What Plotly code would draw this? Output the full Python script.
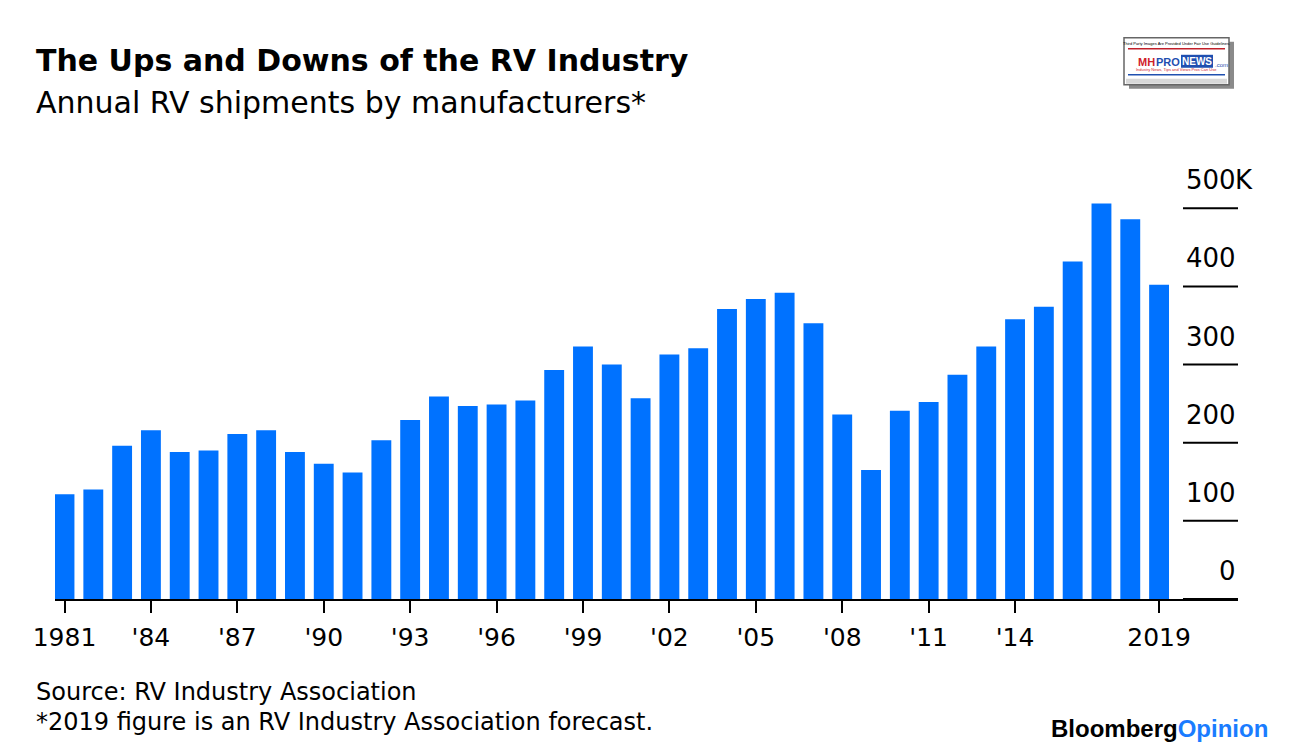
import plotly.graph_objects as go

# annual RV shipments (thousands)
years = list(range(1981, 2020))
shipments = [134, 140, 196, 216, 188, 190, 211, 216, 188, 173,
             162, 203, 229, 259, 247, 249, 254, 293, 323, 300,
             257, 313, 321, 371, 384, 392, 353, 236, 165, 241,
             252, 287, 323, 358, 374, 432, 506, 486, 402]

x_tickvals = [1981, 1984, 1987, 1990, 1993, 1996, 1999, 2002, 2005, 2008, 2011, 2014, 2019]
x_ticktext = ["1981", "'84", "'87", "'90", "'93", "'96", "'99", "'02", "'05", "'08", "'11", "'14", "2019"]
y_tickvals = [0, 100, 200, 300, 400, 500]
y_ticktext = ["0", "100", "200", "300", "400", "500"]

OFF = 8                      # page offset of the plot div
W, H = 1296 - OFF, 754 - OFF
PL, PR, PT, PB = 55, 1238, 176.5, 599.5   # plot area in page pixels
FONT = "DejaVu Sans"
BLUE = "#0072ff"


def px(x):  # page pixel -> paper x
    return (x - PL) / (PR - PL)


def py(y):  # page pixel -> paper y
    return (PB - y) / (PB - PT)


def note(x, y, text, size, color="black", family=FONT, xanchor="left", **kw):
    fig.add_annotation(xref="paper", yref="paper", x=px(x), y=py(y), text=text, showarrow=False,
                       xanchor=xanchor, yanchor="middle",
                       font=dict(family=family, size=size, color=color), **kw)


fig = go.Figure()
fig.add_trace(go.Bar(x=years, y=shipments, marker_color=BLUE, marker_line_width=0))

fig.update_xaxes(
    range=[1980.67, 2021.74],
    tickvals=x_tickvals, ticktext=x_ticktext,
    ticks="outside", ticklen=12, tickwidth=2, tickcolor="black",
    showline=True, linecolor="black", linewidth=2,
    showgrid=False, zeroline=False,
    tickfont=dict(family=FONT, size=25, color="black"),
    ticklabelstandoff=3,
)
fig.update_yaxes(range=[0, 540], visible=False)

# right-hand value ticks: short line with the label sitting above it
for v, t in zip(y_tickvals, y_ticktext):
    fig.add_shape(type="line", xref="paper", yref="y", x0=px(1183), x1=1, y0=v, y1=v,
                  line=dict(color="black", width=2))
    fig.add_annotation(xref="paper", yref="y", x=1, y=v, text=t, showarrow=False,
                       xanchor="right", yanchor="middle", yshift=28,
                       font=dict(family=FONT, size=26, color="black"))
fig.add_annotation(xref="paper", yref="y", x=1, y=y_tickvals[-1], text="K", showarrow=False,
                   xanchor="left", yanchor="middle", yshift=28, xshift=-5,
                   font=dict(family=FONT, size=26, color="black"))

# titles and notes
note(34, 60, "<b>The Ups and Downs of the RV Industry</b>", 30)
note(34, 102, "Annual RV shipments by manufacturers*", 30)
note(34, 693, "Source: RV Industry Association", 24)
note(34, 723, "*2019 figure is an RV Industry Association forecast.", 24)
note(1270, 729, "<b>Bloomberg<span style='color:#1a7cff'>Opinion</span></b>", 24,
     family="Liberation Sans", xanchor="right")

# MHProNews stamp, top right
fig.add_shape(type="rect", xref="paper", yref="paper", x0=px(1129), x1=px(1234), y0=py(88), y1=py(41),
              fillcolor="#8a8a8a", line_width=0, layer="above")
fig.add_shape(type="rect", xref="paper", yref="paper", x0=px(1124), x1=px(1229), y0=py(84), y1=py(37),
              fillcolor="white", line=dict(color="#666666", width=1.5), layer="above")
fig.add_shape(type="line", xref="paper", yref="paper", x0=px(1128), x1=px(1225), y0=py(48), y1=py(48),
              line=dict(color="#c0202a", width=1.5), layer="above")
fig.add_shape(type="line", xref="paper", yref="paper", x0=px(1128), x1=px(1225), y0=py(74), y1=py(74),
              line=dict(color="#2050b0", width=1.5), layer="above")
fig.add_shape(type="rect", xref="paper", yref="paper", x0=px(1126), x1=px(1227), y0=py(83), y1=py(78),
              fillcolor="#d8d8d8", line_width=0, layer="above")
fig.add_shape(type="rect", xref="paper", yref="paper", x0=px(1181), x1=px(1213), y0=py(67), y1=py(54),
              fillcolor="#1f4fb0", line_width=0, layer="above")
note(1176, 43, "Third Party Images Are Provided Under Fair Use Guidelines.", 4,
     family="Liberation Sans", xanchor="center", borderpad=0, borderwidth=0)
note(1146, 61, "<b>MH</b>", 11, color="#d0202a", family="Liberation Sans", xanchor="center",
     borderpad=0, borderwidth=0)
note(1168, 61, "<b>PRO</b>", 11, color="#1f4fb0", family="Liberation Sans", xanchor="center",
     borderpad=0, borderwidth=0)
note(1197, 61, "<b>NEWS</b>", 10, color="white", family="Liberation Sans", xanchor="center",
     borderpad=0, borderwidth=0)
note(1215, 64, ".com", 6, color="#1f4fb0", family="Liberation Sans", xanchor="left",
     borderpad=0, borderwidth=0)
note(1176, 69, "Industry News, Tips and Views Pros Can Use", 4, color="#d0202a",
     family="Liberation Sans", xanchor="center", borderpad=0, borderwidth=0)

fig.update_layout(
    width=W, height=H,
    margin=dict(l=PL - OFF, r=W - (PR - OFF), t=PT - OFF, b=H - (PB - OFF)),
    plot_bgcolor="white", paper_bgcolor="white",
    bargap=0.31, showlegend=False,
)

fig.write_html("out.html")
